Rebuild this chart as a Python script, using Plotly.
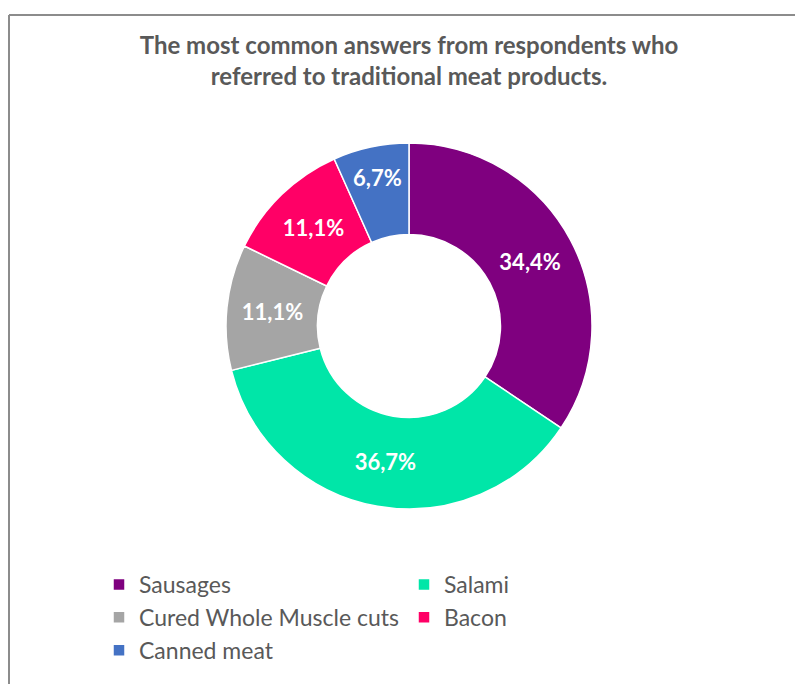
import plotly.graph_objects as go

# Survey shares (percent) for traditional meat products
categories = ["Sausages", "Salami", "Cured Whole Muscle cuts", "Bacon", "Canned meat"]
shares = [34.4, 36.7, 11.1, 11.1, 6.7]
colors = ["#7F007F", "#00E6A8", "#A5A5A5", "#FF0066", "#4472C4"]
title_lines = [
    "The most common answers from respondents who",
    "referred to traditional meat products.",
]

W, H = 795, 684

# Labels use a decimal comma
labels_text = [f"{v:.1f}".replace(".", ",") + "%" for v in shares]

# Donut geometry in pixels
cx, cy, r = 409, 326, 183

fig = go.Figure(
    go.Pie(
        labels=categories,
        values=shares,
        text=labels_text,
        textinfo="text",
        texttemplate="%{text}",
        textposition="inside",
        insidetextorientation="horizontal",
        textfont=dict(family="Lato", size=22, color="white", weight="bold"),
        hole=0.5,
        sort=False,
        direction="clockwise",
        rotation=0,
        marker=dict(colors=colors, line=dict(color="white", width=1.5)),
        domain=dict(
            x=[(cx - r) / W, (cx + r) / W],
            y=[1 - (cy + r) / H, 1 - (cy - r) / H],
        ),
        hoverinfo="label+percent",
    )
)

fig.update_layout(
    width=W,
    height=H,
    margin=dict(l=0, r=0, t=0, b=0),
    paper_bgcolor="white",
    plot_bgcolor="white",
    title=dict(
        text="<br>".join(title_lines),
        x=cx / W,
        xanchor="center",
        y=1 - 54 / H,
        yanchor="top",
        yref="container",
        font=dict(family="Lato", size=24, color="#595959", weight="bold"),
    ),
    showlegend=True,
    legend=dict(
        orientation="h",
        x=99 / W,
        xanchor="left",
        y=1 - 563 / H,
        yanchor="top",
        entrywidth=260,
        entrywidthmode="pixels",
        font=dict(family="Lato", size=23, color="#595959"),
        itemclick=False,
        traceorder="normal",
    ),
    shapes=[
        dict(type="line", xref="paper", yref="paper",
             x0=9 / W, x1=1.0, y0=1 - 15 / H, y1=1 - 15 / H,
             line=dict(color="#8C8C8C", width=2)),
        dict(type="line", xref="paper", yref="paper",
             x0=9 / W, x1=9 / W, y0=0.0, y1=1 - 15 / H,
             line=dict(color="#8C8C8C", width=2)),
    ],
)

fig.write_html("out.html")
